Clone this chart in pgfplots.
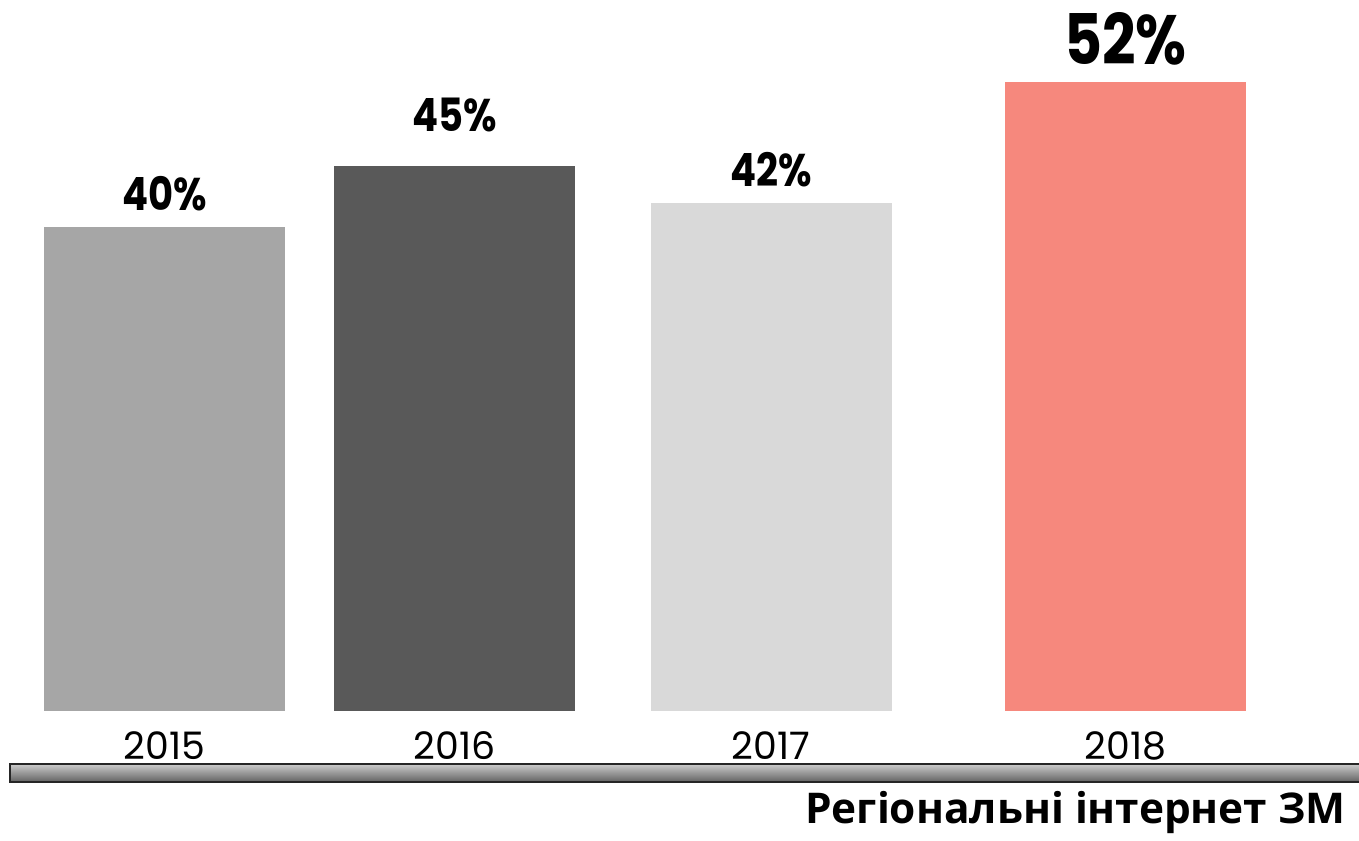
\documentclass[border=0pt]{standalone}
\usepackage{pgfplots}
\pgfplotsset{compat=1.18}
\usepackage{fontspec}
\setmainfont{Poppins}
\newfontfamily\pctfont{Poppins}[FakeStretch=0.84]
\newfontfamily\titlefont{Open Sans}
\definecolor{cA}{HTML}{A6A6A6}
\definecolor{cB}{HTML}{595959}
\definecolor{cC}{HTML}{D9D9D9}
\definecolor{cD}{HTML}{F6887D}
\begin{document}
\begin{tikzpicture}[x=1bp,y=1bp]
\useasboundingbox (0,0) rectangle (1359,840);
\begin{axis}[at={(0,0)}, anchor=south west, scale only axis,
  width=1359bp, height=840bp,
  xmin=0, xmax=1359, ymin=-10.661, ymax=58.76,
  axis line style={draw=none}, tick style={draw=none},
  ytick=\empty,
  xtick={164.5,454.5,771,1125.5},
  xticklabels={2015,2016,2017,2018},
  xticklabel style={anchor=base, yshift=85bp, inner sep=0pt, font=\fontsize{38}{38}\selectfont},
  ybar, bar width=241,
  nodes near coords={\pgfmathprintnumber[assume math mode=true]{\pgfplotspointmeta}\%},
  every node near coord/.style={anchor=base, inner sep=0pt, black, font=\pctfont\bfseries\fontsize{46}{46}\selectfont},
  clip=false]
\addplot[fill=cA, draw=none, bar shift=0pt, every node near coord/.append style={yshift=16bp}] coordinates {(164.5,40)};
\addplot[fill=cB, draw=none, bar shift=0pt, every node near coord/.append style={yshift=34.5bp}] coordinates {(454.5,45)};
\addplot[fill=cC, draw=none, bar shift=0pt, every node near coord/.append style={yshift=15.8bp}] coordinates {(771,42)};
\addplot[fill=cD, draw=none, bar shift=0pt, every node near coord/.append style={yshift=16.8bp, font=\pctfont\bfseries\fontsize{70}{70}\selectfont}] coordinates {(1125.5,52)};
\end{axis}
\draw[line width=1.2bp, draw=black!85, top color=black!20, bottom color=black!62] (10,58) rectangle (1380,76);
\node[anchor=base west, inner sep=0pt, font=\titlefont\bfseries\fontsize{42.5}{42.5}\selectfont] at (805,17) {Регіональні інтернет ЗМ};
\end{tikzpicture}
\end{document}
